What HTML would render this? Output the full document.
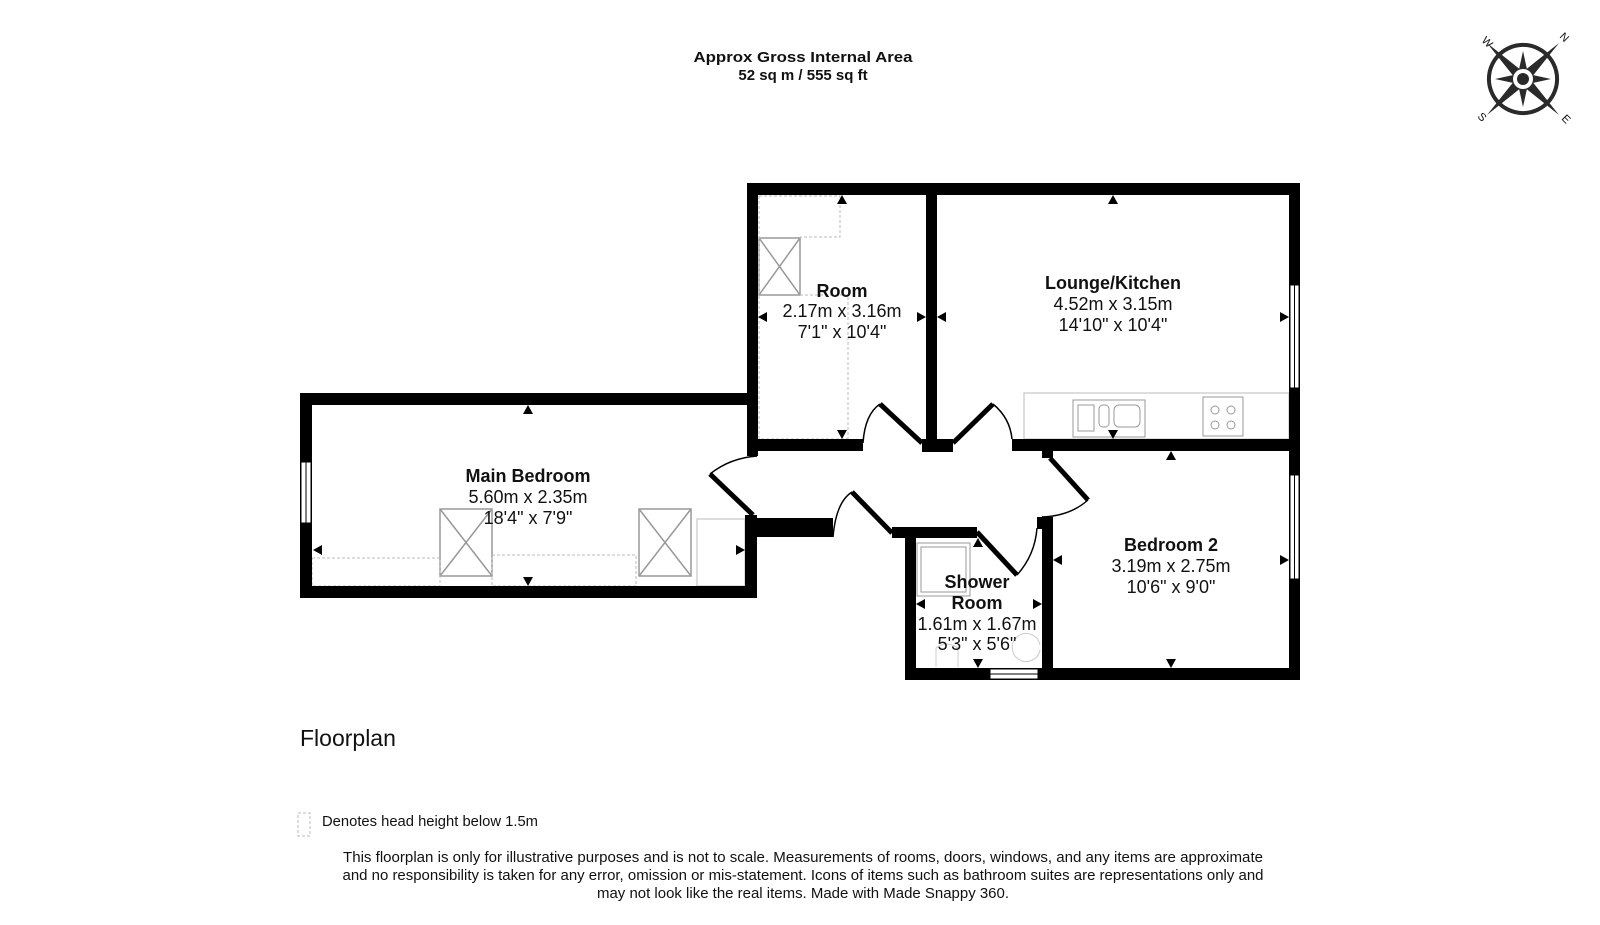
<!DOCTYPE html>
<html><head><meta charset="utf-8"><style>
html,body{margin:0;padding:0;background:#fff}
svg{display:block}
text{font-family:"Liberation Sans",Arial,sans-serif;fill:#111}
.b{font-weight:bold}
</style></head><body>
<svg width="1600" height="925" viewBox="0 0 1600 925" xmlns="http://www.w3.org/2000/svg">
<text x="803" y="62" class="b" font-size="15" text-anchor="middle" textLength="219" lengthAdjust="spacingAndGlyphs">Approx Gross Internal Area</text>
<text x="803" y="80" class="b" font-size="15" text-anchor="middle">52 sq m / 555 sq ft</text>

<g transform="translate(1523,79)" fill="#2a2a2a" stroke="none">
  <path d="M-26,-22 A34,34 0 0 1 26,-22" fill="none" stroke="#2a2a2a" stroke-width="4"/>
  <path d="M-26,-22 A34,34 0 0 1 26,-22" fill="none" stroke="#2a2a2a" stroke-width="4" transform="rotate(90)"/>
  <path d="M-26,-22 A34,34 0 0 1 26,-22" fill="none" stroke="#2a2a2a" stroke-width="4" transform="rotate(180)"/>
  <path d="M-26,-22 A34,34 0 0 1 26,-22" fill="none" stroke="#2a2a2a" stroke-width="4" transform="rotate(270)"/>
  <polygon points="0,-28 5,-5 28,0 5,5 0,28 -5,5 -28,0 -5,-5"/>
  <polygon points="-36,-36 -4,4 4,-4" /><polygon points="36,36 4,-4 -4,4"/>
  <polygon points="36,-36 4,4 -4,-4" /><polygon points="-36,36 -4,-4 4,4"/>
  <circle r="10" fill="#fff"/><circle r="6"/>
  <text x="-42" y="-38" font-size="11" fill="#333" transform="rotate(45,-42,-38)">W</text>
  <text x="36" y="-42" font-size="11" fill="#333" transform="rotate(45,36,-42)">N</text>
  <text x="-46" y="38" font-size="11" fill="#333" transform="rotate(45,-46,38)">S</text>
  <text x="38" y="40" font-size="11" fill="#333" transform="rotate(45,38,40)">E</text>
</g>

<g fill="none" stroke="#999" stroke-width="1.5">
  <rect x="440" y="509" width="52" height="67"/><path d="M440,509L492,576M492,509L440,576"/>
  <rect x="639" y="509" width="52" height="67"/><path d="M639,509L691,576M691,509L639,576"/>
  <rect x="697" y="519" width="48" height="67" stroke="#bbb" stroke-width="1"/>
  <rect x="759" y="238" width="41" height="57"/><path d="M759,238L800,295M800,238L759,295"/>
  <rect x="1024" y="393" width="265" height="46" stroke="#bbb" stroke-width="1"/>
  <rect x="1073" y="400" width="72" height="37" stroke-width="1"/>
  <rect x="1078" y="405" width="16" height="26" stroke-width="1"/>
  <rect x="1099" y="405" width="10" height="22" rx="4" stroke-width="1"/>
  <rect x="1114" y="405" width="26" height="22" rx="5" stroke-width="1"/>
  <rect x="1203" y="397" width="40" height="39" stroke-width="1"/>
  <circle cx="1215" cy="410" r="4" stroke-width="1"/><circle cx="1231" cy="410" r="4" stroke-width="1"/>
  <circle cx="1215" cy="425" r="4" stroke-width="1"/><circle cx="1231" cy="425" r="4" stroke-width="1"/>
  <rect x="917" y="543" width="53" height="53" stroke-width="1"/>
  <rect x="921" y="547" width="45" height="45" stroke-width="1"/>
  <path d="M936,667 L936,648 Q946,640 958,648 L958,667" stroke="#ccc" stroke-width="1"/>
  <path d="M1040,645 A14,14 0 1 0 1040,650" stroke="#ccc" stroke-width="1"/>
</g>
<g fill="none" stroke="#bbb" stroke-width="1" stroke-dasharray="3,2">
  <rect x="312" y="558" width="128" height="28"/>
  <rect x="492" y="555" width="144" height="31"/>
  <path d="M759,196 L840,196 L840,237 L800,237"/>
  <path d="M800,295 L848,295 L848,439 M759,196 L759,439 L848,439"/>
  <rect x="298" y="813" width="12" height="23"/>
</g>

<g fill="#000">
  <rect x="300" y="393" width="457" height="12"/>
  <rect x="300" y="586" width="457" height="12"/>
  <rect x="300" y="393" width="12" height="205"/>
  <rect x="745" y="515" width="12" height="83"/>
  <rect x="747" y="183" width="553" height="12"/>
  <rect x="747" y="183" width="11" height="273"/>
  <rect x="747" y="439" width="116" height="12"/>
  <rect x="926" y="183" width="11" height="269"/>
  <rect x="922" y="439" width="31" height="13"/>
  <rect x="1289" y="183" width="11" height="497"/>
  <rect x="1012" y="439" width="288" height="12"/>
  <rect x="1042" y="439" width="11" height="19"/>
  <rect x="1037" y="517" width="16" height="12"/>
  <rect x="1042" y="517" width="11" height="163"/>
  <rect x="905" y="668" width="395" height="12"/>
  <rect x="905" y="527" width="11" height="153"/>
  <rect x="892" y="527" width="85" height="11"/>
  <rect x="757" y="518" width="76" height="19"/>
</g>
<g fill="#fff" stroke="#000" stroke-width="1">
  <rect x="301" y="462" width="10" height="61"/><line x1="306" y1="462" x2="306" y2="523"/>
  <rect x="1290" y="285" width="9" height="103"/><line x1="1294.5" y1="285" x2="1294.5" y2="388"/>
  <rect x="1290" y="475" width="9" height="104"/><line x1="1294.5" y1="475" x2="1294.5" y2="579"/>
  <rect x="990" y="669" width="48" height="10"/><line x1="990" y1="674" x2="1038" y2="674"/>
</g>
<g fill="none" stroke="#000">
  <path d="M710,474 L753,515" stroke-width="5"/><path d="M710,474 Q730,458 757,456" stroke-width="1.5"/>
  <path d="M852,492 L892,533" stroke-width="5"/><path d="M833,537 Q836,502 852,492" stroke-width="1.5"/>
  <path d="M880,404 L922,443" stroke-width="5"/><path d="M863,443 Q865,414 880,404" stroke-width="1.5"/>
  <path d="M953,443 L993,404" stroke-width="5"/><path d="M993,404 Q1010,418 1012,439" stroke-width="1.5"/>
  <path d="M1050,458 L1088,500" stroke-width="5"/><path d="M1088,500 Q1070,516 1042,517" stroke-width="1.5"/>
  <path d="M977,532 L1017,575" stroke-width="5"/><path d="M1017,575 Q1035,555 1037,528" stroke-width="1.5"/>
</g>
<g fill="#000">
  <path d="M528,405 l-5,9 h10z"/><path d="M528,586 l-5,-9 h10z"/>
  <path d="M313,550 l9,-5 v10z"/><path d="M745,550 l-9,-5 v10z"/>
  <path d="M758,317 l9,-5 v10z"/><path d="M926,317 l-9,-5 v10z"/>
  <path d="M842,195 l-5,9 h10z"/><path d="M842,439 l-5,-9 h10z"/>
  <path d="M937,317 l9,-5 v10z"/><path d="M1289,317 l-9,-5 v10z"/>
  <path d="M1113,195 l-5,9 h10z"/><path d="M1113,439 l-5,-9 h10z"/>
  <path d="M1171,451 l-5,9 h10z"/><path d="M1171,668 l-5,-9 h10z"/>
  <path d="M1053,560 l9,-5 v10z"/><path d="M1289,560 l-9,-5 v10z"/>
  <path d="M978,538 l-5,9 h10z"/><path d="M978,668 l-5,-9 h10z"/>
  <path d="M916,604 l9,-5 v10z"/><path d="M1042,604 l-9,-5 v10z"/>
</g>
<g font-size="18" text-anchor="middle">
  <text x="842" y="297" class="b">Room</text>
  <text x="842" y="317">2.17m x 3.16m</text>
  <text x="842" y="338">7'1" x 10'4"</text>
  <text x="1113" y="289" class="b">Lounge/Kitchen</text>
  <text x="1113" y="310">4.52m x 3.15m</text>
  <text x="1113" y="331">14'10" x 10'4"</text>
  <text x="528" y="482" class="b">Main Bedroom</text>
  <text x="528" y="503">5.60m x 2.35m</text>
  <text x="528" y="524">18'4" x 7'9"</text>
  <text x="1171" y="551" class="b">Bedroom 2</text>
  <text x="1171" y="572">3.19m x 2.75m</text>
  <text x="1171" y="593">10'6" x 9'0"</text>
  <text x="977" y="588" class="b">Shower</text>
  <text x="977" y="609" class="b">Room</text>
  <text x="977" y="630">1.61m x 1.67m</text>
  <text x="977" y="650">5'3" x 5'6"</text>
</g>
<text x="300" y="746" font-size="23">Floorplan</text>
<text x="322" y="826" font-size="15" textLength="216" lengthAdjust="spacingAndGlyphs">Denotes head height below 1.5m</text>
<g font-size="14.5" text-anchor="middle">
  <text x="803" y="862" textLength="920" lengthAdjust="spacingAndGlyphs">This floorplan is only for illustrative purposes and is not to scale. Measurements of rooms, doors, windows, and any items are approximate</text>
  <text x="803" y="880" textLength="921" lengthAdjust="spacingAndGlyphs">and no responsibility is taken for any error, omission or mis-statement. Icons of items such as bathroom suites are representations only and</text>
  <text x="803" y="898" textLength="412" lengthAdjust="spacingAndGlyphs">may not look like the real items. Made with Made Snappy 360.</text>
</g>
</svg>
</body></html>
